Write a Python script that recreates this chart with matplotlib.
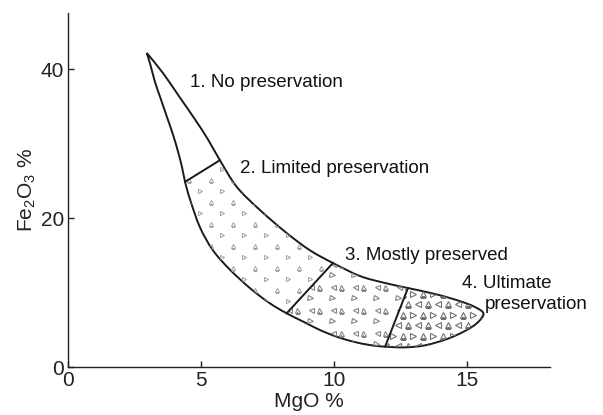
import numpy as np
import matplotlib
matplotlib.use("Agg")
import matplotlib.pyplot as plt
from matplotlib.path import Path
from matplotlib.patches import PathPatch

plt.rcParams['font.family'] = ['Liberation Sans', 'DejaVu Sans']
plt.rcParams['mathtext.fontset'] = 'custom'
plt.rcParams['mathtext.rm'] = 'Liberation Sans'
plt.rcParams['mathtext.it'] = 'Liberation Sans:italic'

# ---- data (MgO %, Fe2O3 %) ----
upper_x = [2.96, 3.57, 4.17, 4.77, 5.26, 5.71, 6.35, 7.22, 8.23, 9.10, 9.96,
           10.98, 11.92, 12.78, 13.80, 14.66, 15.26, 15.62]
upper_y = [42.2, 39.5, 36.4, 33.3, 30.6, 27.8, 24.2, 21.1, 18.0, 15.7, 14.0,
           12.25, 11.32, 10.64, 9.84, 8.97, 8.16, 7.22]
lower_x = [2.96, 3.10, 3.27, 3.50, 3.72, 3.95, 4.14, 4.29, 4.40, 4.59, 4.96,
           5.45, 6.09, 6.88, 7.59, 8.22, 8.85, 9.47, 10.10, 10.73, 11.35,
           11.92, 12.67, 13.42, 14.25, 14.92, 15.38, 15.62]
lower_y = [42.2, 40.58, 38.3, 35.9, 33.6, 31.2, 28.9, 26.8, 24.9, 22.5, 18.8,
           15.7, 13.1, 10.51, 8.59, 7.25, 6.12, 5.01, 4.11, 3.44, 2.99,
           2.77, 2.68, 2.95, 3.80, 4.87, 5.95, 7.22]
# indices of divider end points on the upper / lower chains
div_upper = [5, 10, 13]
div_lower = [8, 15, 21]

labels = ["1. No preservation", "2. Limited preservation",
          "3. Mostly preserved", "4. Ultimate", "preservation"]
label_x = [4.59, 6.47, 10.41, 14.81, 15.68]
label_y = [37.6, 26.1, 14.4, 10.64, 7.83]

xticks = [0, 5, 10, 15]
yticks = [0, 20, 40]

# ---- figure ----
fig = plt.figure(figsize=(6.03, 4.15), dpi=100)
ax = fig.add_axes([0.1128, 0.1149, 0.7993, 0.8537])
ax.set_xlim(0, 18.12)
ax.set_ylim(0, 47.56)

for s in ['top', 'right']:
    ax.spines[s].set_visible(False)
for s in ['left', 'bottom']:
    ax.spines[s].set_linewidth(1.0)
    ax.spines[s].set_color('#222222')
ax.set_xticks(xticks)
ax.set_yticks(yticks)
ax.tick_params(direction='in', length=4, width=1.0, colors='#222222',
               labelsize=15, pad=3)
ax.set_xlabel('MgO %', fontsize=15, color='#222222', labelpad=1)
ax.set_ylabel('Fe$_2$O$_3$ %', fontsize=15, color='#222222', labelpad=2)

ux, uy = np.array(upper_x), np.array(upper_y)
lx, ly = np.array(lower_x), np.array(lower_y)
Nu, Nl = len(ux), len(lx)

# closed outline: upper chain tip -> right end, then lower chain back to tip
loop = np.vstack([np.column_stack([ux, uy]),
                  np.column_stack([lx, ly])[::-1][1:]])
NL = len(loop)


def L(i_lower):
    return Nu - 1 + (Nl - 1 - i_lower)


def ctrl(i):
    # Catmull-Rom control points for loop segment i -> i+1 (sharp at the tip)
    p0 = loop[i - 1] if i > 0 else loop[i]
    p1, p2 = loop[i], loop[i + 1]
    p3 = loop[i + 2] if i + 2 < NL else loop[i + 1]
    return p1 + (p2 - p0) / 6.0, p2 - (p3 - p1) / 6.0


def segs(i0, i1):
    verts, codes = [], []
    for i in range(i0, i1):
        c1, c2 = ctrl(i)
        verts += [c1, c2, loop[i + 1]]
        codes += [Path.CURVE4] * 3
    return verts, codes


def outline_path():
    v, c = segs(0, NL - 1)
    return Path([loop[0]] + v, [Path.MOVETO] + c)


bu = [0] + div_upper + [Nu - 1]
bl = [0] + div_lower + [Nl - 1]
regions = []
for k in range(4):
    i0, i1 = bu[k], bu[k + 1]
    j0, j1 = L(bl[k + 1]), L(bl[k])
    verts = [loop[i0]]
    codes = [Path.MOVETO]
    v, c = segs(i0, i1)
    verts += v; codes += c
    if j0 != i1:
        verts.append(loop[j0]); codes.append(Path.LINETO)
    v, c = segs(j0, j1)
    verts += v; codes += c
    verts.append(loop[i0]); codes.append(Path.CLOSEPOLY)
    regions.append(Path(verts, codes))

# textures (pixel-spaced grids converted to data coordinates)
fig.canvas.draw()
inv = ax.transData.inverted()
bb = ax.bbox


def grid_points(dx, dy, row_shift):
    pts = []
    rows = int(bb.height / dy) + 2
    cols = int(bb.width / dx) + 2
    for r in range(rows):
        yy = bb.y0 + r * dy
        off = (r % 2) * row_shift
        for c in range(cols):
            pts.append((bb.x0 + c * dx + off, yy, r % 2))
    pts = np.array(pts)
    return inv.transform(pts[:, :2]), pts[:, 2]


def px_shift(dxp):
    return inv.transform([[bb.x0 + dxp, bb.y0]])[0] - inv.transform([[bb.x0, bb.y0]])[0]


def add_markers(path, xy, marker, ms, color, mew):
    patch = PathPatch(path, facecolor='none', edgecolor='none')
    ax.add_patch(patch)
    ln, = ax.plot(xy[:, 0], xy[:, 1], ls='none', marker=marker, ms=ms,
                  mfc='none', mec=color, mew=mew)
    ln.set_clip_path(patch)


# region 2: sparse small triangles
d, par = grid_points(22, 11, 11)
add_markers(regions[1], d[par == 0], '>', 3.0, '#a0a0a0', 0.7)
add_markers(regions[1], d[par == 1], '^', 3.0, '#a0a0a0', 0.7)

# region 3: rows alternating single '>' and pairs '<','^'
d, par = grid_points(22, 11.5, 0)
add_markers(regions[2], d[par == 0], '>', 3.6, '#858585', 0.8)
add_markers(regions[2], d[par == 1] + px_shift(1), '<', 3.6, '#858585', 0.8)
add_markers(regions[2], d[par == 1] + px_shift(9), '^', 3.6, '#858585', 0.8)

# region 4: dense larger triangles
d, par = grid_points(10, 10.5, 5)
add_markers(regions[3], d[par == 0][::2], '^', 4.4, '#707070', 0.8)
add_markers(regions[3], d[par == 0][1::2], '<', 4.4, '#707070', 0.8)
add_markers(regions[3], d[par == 1][::2], '>', 4.4, '#707070', 0.8)
add_markers(regions[3], d[par == 1][1::2], '^', 4.4, '#707070', 0.8)

# outlines
lc = '#1a1a1a'
ax.add_patch(PathPatch(outline_path(), facecolor='none', edgecolor=lc,
                       lw=1.4, joinstyle='round'))
for iu, il in zip(div_upper, div_lower):
    ax.plot([ux[iu], lx[il]], [uy[iu], ly[il]], color=lc, lw=1.4)

for t, x, y in zip(labels, label_x, label_y):
    ax.text(x, y, t, fontsize=13.5, color='#111111', va='baseline', ha='left')

fig.savefig('out.png', dpi=100)
